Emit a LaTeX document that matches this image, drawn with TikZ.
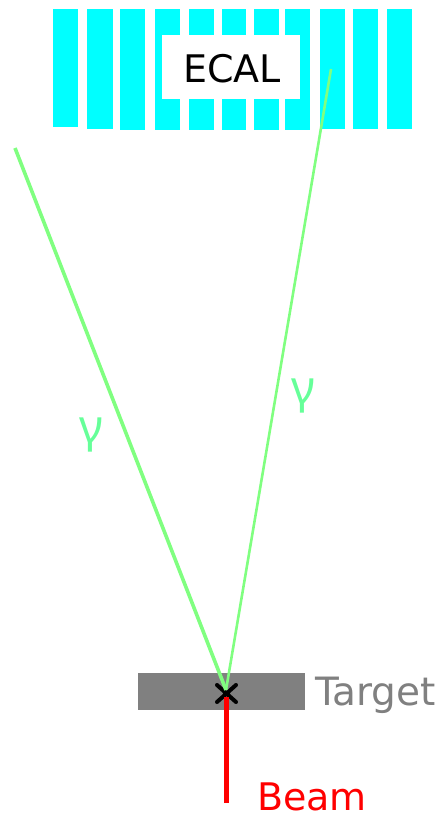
\documentclass[tikz,border=0pt]{standalone}
\usepackage{fontspec}
\setmainfont{DejaVu Sans}
\newfontfamily\gamfont{Noto Sans}
\definecolor{ecalc}{RGB}{0,255,255}
\definecolor{rayc}{RGB}{128,255,128}
\definecolor{gamc}{RGB}{102,255,153}
\definecolor{targc}{RGB}{128,128,128}
\tikzset{
  px/.style={x=1pt,y=-1pt},
  bar/.style={fill=ecalc,draw=none},
  ray/.style={draw=rayc,line cap=butt},
  lab/.style={inner sep=0pt,font=\fontsize{38}{38}\selectfont},
  gam/.style={inner sep=0pt,text=gamc,font=\gamfont\fontsize{46}{46}\selectfont}
}
\begin{document}
\begin{tikzpicture}[px]
\useasboundingbox (0,0) rectangle (438,814);
\foreach \a/\b/\c in {53/78/127,87/112.5/128.5,120/145/129.5,154.5/179.5/129.5,189/214/129.5,222/246/129.5,253.5/279/129.5,285/310/129.5,319.5/344.5/128.5,352.5/378/128.5,387/412/128.5}
  \path[bar] (\a,8.5) rectangle (\b,\c);
\path[fill=white] (161.5,35) rectangle (300,98.5);
\node[lab,text=black,anchor=base] (ecal) at (232,82) {ECAL};
\path[fill=targc] (137.5,673) rectangle (305,710);
\node[lab,text=targc,anchor=base west,font=\fontsize{39}{39}\selectfont] (target) at (315,705) {Target};
\node[lab,text=red,anchor=base west] (beam) at (257,810) {Beam};
\coordinate (v) at (226,690);
\coordinate (b0) at (226.5,803);
\coordinate (l) at (15,148);
\coordinate (r) at (331,69);
\coordinate (bt) at (226.5,697);
\draw[black,line width=4pt,line cap=round] (217,685) -- (236,702) (236,685) -- (217,702);
\draw[ray,line width=3.6pt] (l) -- (v);
\draw[ray,line width=2.6pt] (r) -- (v);
\draw[red,line width=5pt] (b0) -- (bt);
\node[gam,anchor=center] (g1) at (91,435) {γ};
\node[gam,anchor=center] (g2) at (303,396) {γ};
\end{tikzpicture}
\end{document}
